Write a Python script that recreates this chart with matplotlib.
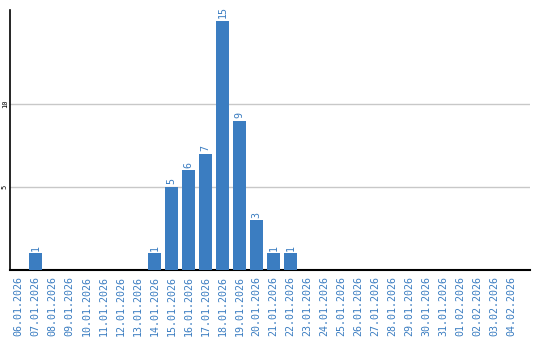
import matplotlib
matplotlib.use("Agg")
import matplotlib.pyplot as plt

dates = ["06.01.2026", "07.01.2026", "08.01.2026", "09.01.2026", "10.01.2026",
         "11.01.2026", "12.01.2026", "13.01.2026", "14.01.2026", "15.01.2026",
         "16.01.2026", "17.01.2026", "18.01.2026", "19.01.2026", "20.01.2026",
         "21.01.2026", "22.01.2026", "23.01.2026", "24.01.2026", "25.01.2026",
         "26.01.2026", "27.01.2026", "28.01.2026", "29.01.2026", "30.01.2026",
         "31.01.2026", "01.02.2026", "02.02.2026", "03.02.2026", "04.02.2026"]
values = [0, 1, 0, 0, 0, 0, 0, 0, 1, 5, 6, 7, 15, 9, 3, 1, 1,
          0, 0, 0, 0, 0, 0, 0, 0, 0, 0, 0, 0, 0]
yticks = [5, 10]

blue = "#3b7dc1"
font = "DejaVu Sans Mono"

fig = plt.figure(figsize=(5.4, 3.4), dpi=100)
ax = fig.add_axes([10/540, 70/340, 520/540, 260/340])

x = list(range(len(dates)))
ax.bar(x, values, width=0.82, color=blue, zorder=3)
for xi, v in zip(x, values):
    if v > 0:
        ax.text(xi, v + 0.15, str(v), rotation=90, ha="center", va="bottom",
                color=blue, fontsize=7.2, family=font)

ax.set_xlim(-0.5, 30.09)
ax.set_ylim(0, 15.66)
ax.set_yticks(yticks)
ax.set_yticklabels([str(t) for t in yticks], rotation=90, va="center",
                   fontsize=5, family=font, color="black")
ax.set_xticks(x)
ax.set_xticklabels(dates, rotation=90, fontsize=7.2, family=font, color=blue)
ax.tick_params(axis="both", length=0)
ax.tick_params(axis="x", pad=4)
ax.tick_params(axis="y", pad=1.5)
ax.grid(axis="y", color="#c8c8c8", linewidth=1, zorder=0)
for s in ["top", "right"]:
    ax.spines[s].set_visible(False)
ax.spines["left"].set_color("black")
ax.spines["bottom"].set_color("black")
ax.spines["left"].set_linewidth(1.2)
ax.spines["bottom"].set_linewidth(1.5)

fig.savefig("out.png", dpi=100)
